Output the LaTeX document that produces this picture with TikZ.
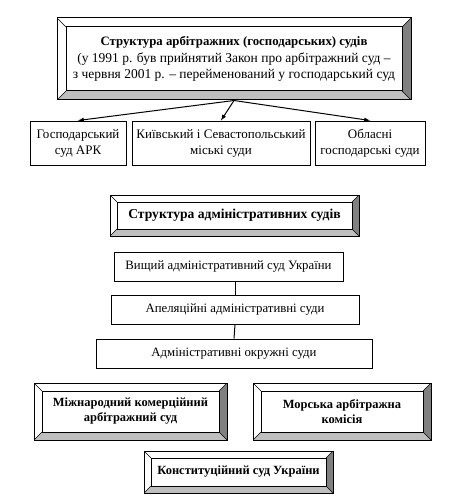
\documentclass[tikz,border=0pt]{standalone}
\usepackage{fontspec}
\setmainfont{Liberation Serif}
\usetikzlibrary{arrows,calc}

\tikzset{
  plainbox/.style={draw, line width=1pt, align=center, inner sep=1pt,
    font=\fontsize{13}{16}\selectfont},
  bevel/.style={draw, line width=1pt, align=center, inner sep=1pt,
    font=\fontsize{12.5}{15}\selectfont\bfseries,
    path picture={
      \fill[black!50] (path picture bounding box.north east) -- ($(path picture bounding box.north east)+(-#1,#1)$)
        -- ($(path picture bounding box.south east)+(-#1,-#1)$) -- (path picture bounding box.south east) -- cycle;
      \fill[black!25] (path picture bounding box.south west) -- ($(path picture bounding box.south west)+(#1,-#1)$)
        -- ($(path picture bounding box.south east)+(-#1,-#1)$) -- (path picture bounding box.south east) -- cycle;
      \draw[line width=1pt] ($(path picture bounding box.north west)+(#1,#1)$) rectangle ($(path picture bounding box.south east)+(-#1,-#1)$);
      \draw[line width=0.6pt] (path picture bounding box.north west) -- +(#1,#1);
      \draw[line width=0.6pt] (path picture bounding box.north east) -- +(-#1,#1);
      \draw[line width=0.6pt] (path picture bounding box.south west) -- +(#1,-#1);
      \draw[line width=0.6pt] (path picture bounding box.south east) -- +(-#1,-#1);
    }},
  bevel/.default=8
}

\begin{document}
\begin{tikzpicture}[x=1pt,y=-1pt]
    \useasboundingbox (0,0) rectangle (452,500);

    % arbitration courts
    \node[bevel=9, minimum width=354pt, minimum height=82pt, font=\fontsize{13.5}{16.5}\selectfont] at (234,59) (arb)
      {{\fontsize{12.8}{16.5}\selectfont\bfseries Структура арбітражних (господарських) судів}\\(у 1991 р. був прийнятий Закон про арбітражний суд –\\з червня 2001 р. – перейменований у господарський суд};
    \node[plainbox, minimum width=96pt, minimum height=44pt] at (78,143) (ark) {Господарський\\суд АРК};
    \node[plainbox, minimum width=178pt, minimum height=44pt] at (221,143) (kyiv) {Київський і Севастопольський\\міські суди};
    \node[plainbox, minimum width=110pt, minimum height=44pt] at (370,143) (obl) {Обласні\\господарські суди};
    \draw[-latex, line width=1pt] (arb.south) -- (ark.north);
    \draw[-latex, line width=1pt] (arb.south) -- (kyiv.north);
    \draw[-latex, line width=1pt] (arb.south) -- (obl.north);

    % administrative courts
    \node[bevel=7, minimum width=249pt, minimum height=41pt, font=\fontsize{13.6}{16}\selectfont\bfseries] at (234.5,215.5) (adm) {Структура адміністративних судів};
    \node[plainbox, minimum width=229pt, minimum height=29pt, font=\fontsize{12.8}{16}\selectfont] at (228.5,266.5) (vys) {Вищий адміністративний суд України};
    \node[plainbox, minimum width=248pt, minimum height=29pt, font=\fontsize{12.8}{16}\selectfont] at (235,309.5) (apel) {Апеляційні адміністративні суди};
    \node[plainbox, minimum width=276pt, minimum height=29pt, font=\fontsize{12.8}{16}\selectfont] at (234,353.5) (okr) {Адміністративні окружні суди};
    \draw[line width=1pt] (vys.south -| apel.north) -- (apel.north);
    \draw[line width=1pt] (apel.south) -- (okr.north);

    % other courts
    \node[bevel=8, minimum width=193pt, minimum height=57pt] at (130.5,411.5) (mkas) {Міжнародний комерційний\\арбітражний суд};
    \node[bevel=8, minimum width=178pt, minimum height=57pt] at (342,411.5) (mak) {Морська арбітражна\\комісія};
    \node[bevel=7, minimum width=189pt, minimum height=42pt] at (238.5,472) (ksu) {Конституційний суд України};
\end{tikzpicture}
\end{document}
